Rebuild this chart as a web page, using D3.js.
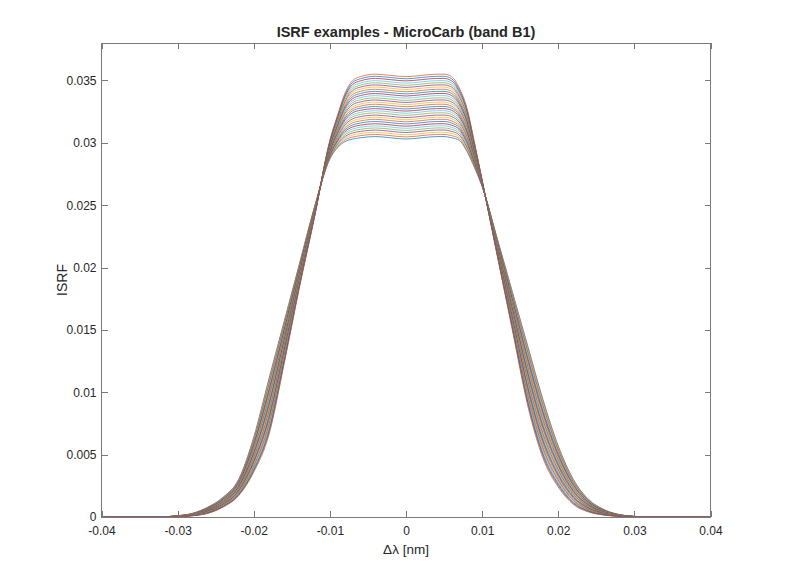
<!DOCTYPE html>
<html><head><meta charset="utf-8">
<script src="https://cdn.jsdelivr.net/npm/d3@7"></script>
<style>
body{margin:0;background:#fff}
svg text{font-family:"Liberation Sans",Arial,Helvetica,sans-serif;fill:#262626}
</style>
</head><body>
<svg id="chart" width="785" height="581"></svg>
<script>
// ---- data ----
const chartTitle = "ISRF examples - MicroCarb (band B1)";
const xLabel = "\u0394\u03bb [nm]";
const yLabel = "ISRF";
const xTickValues = [-0.04,-0.03,-0.02,-0.01,0,0.01,0.02,0.03,0.04];
const xTickLabels = ["-0.04","-0.03","-0.02","-0.01","0","0.01","0.02","0.03","0.04"];
const yTickValues = [0,0.005,0.01,0.015,0.02,0.025,0.03,0.035];
const yTickLabels = ["0","0.005","0.01","0.015","0.02","0.025","0.03","0.035"];
const lineColors = ["#0072BD","#D95319","#EDB120","#7E2F8E","#77AC30","#4DBEEE","#A2142F"];

// wavelength offsets (nm) at which the ISRF curves are tabulated
const deltaLambda = [-0.040,-0.032,-0.030,-0.028,-0.026,-0.024,-0.022,-0.020,-0.018,-0.016,-0.014,-0.012,-0.010,-0.009,-0.008,-0.007,-0.006,-0.004,-0.002,0.000,0.002,0.004,0.005,0.006,0.007,0.008,0.009,0.010,0.012,0.014,0.016,0.018,0.020,0.022,0.024,0.026,0.028,0.030,0.032,0.040];

// ISRF value of each of the 30 curves at each delta-lambda (one array per delta-lambda)
const isrfAtX00 = [0,0,0,0,0,0,0,0,0,0,0,0,0,0,0,0,0,0,0,0,0,0,0,0,0,0,0,0,0,0];
const isrfAtX01 = [2e-5,2e-5,2e-5,2e-5,2e-5,2e-5,2e-5,2e-5,1e-5,1e-5,1e-5,1e-5,1e-5,1e-5,1e-5,1e-5,1e-5,1e-5,1e-5,1e-5,1e-5,1e-5,0,0,0,0,0,0,0,0];
const isrfAtX02 = [10e-5,10e-5,10e-5,9e-5,9e-5,9e-5,9e-5,8e-5,8e-5,8e-5,8e-5,7e-5,7e-5,7e-5,7e-5,6e-5,6e-5,6e-5,6e-5,5e-5,5e-5,5e-5,5e-5,4e-5,4e-5,4e-5,4e-5,3e-5,3e-5,3e-5];
const isrfAtX03 = [30e-5,29e-5,29e-5,28e-5,27e-5,27e-5,26e-5,25e-5,24e-5,24e-5,23e-5,22e-5,22e-5,21e-5,20e-5,20e-5,19e-5,18e-5,18e-5,17e-5,16e-5,16e-5,15e-5,14e-5,13e-5,13e-5,12e-5,11e-5,11e-5,10e-5];
const isrfAtX04 = [80e-5,78e-5,77e-5,75e-5,73e-5,71e-5,70e-5,68e-5,66e-5,64e-5,63e-5,61e-5,59e-5,58e-5,56e-5,54e-5,52e-5,51e-5,49e-5,47e-5,46e-5,44e-5,42e-5,40e-5,39e-5,37e-5,35e-5,33e-5,32e-5,30e-5];
const isrfAtX05 = [160e-5,157e-5,154e-5,152e-5,149e-5,146e-5,143e-5,141e-5,138e-5,135e-5,132e-5,130e-5,127e-5,124e-5,121e-5,119e-5,116e-5,113e-5,110e-5,108e-5,105e-5,102e-5,99e-5,97e-5,94e-5,91e-5,88e-5,86e-5,83e-5,80e-5];
const isrfAtX06 = [300e-5,296e-5,291e-5,287e-5,282e-5,278e-5,273e-5,269e-5,264e-5,260e-5,255e-5,251e-5,246e-5,242e-5,237e-5,233e-5,228e-5,224e-5,219e-5,215e-5,210e-5,206e-5,201e-5,197e-5,192e-5,188e-5,183e-5,179e-5,174e-5,170e-5];
const isrfAtX07 = [640e-5,630e-5,621e-5,611e-5,601e-5,592e-5,582e-5,572e-5,563e-5,553e-5,543e-5,534e-5,524e-5,514e-5,505e-5,495e-5,486e-5,476e-5,466e-5,457e-5,447e-5,437e-5,428e-5,418e-5,408e-5,399e-5,389e-5,379e-5,370e-5,360e-5];
const isrfAtX08 = [1110e-5,1094e-5,1079e-5,1063e-5,1048e-5,1032e-5,1017e-5,1001e-5,986e-5,970e-5,955e-5,939e-5,924e-5,908e-5,893e-5,877e-5,862e-5,846e-5,831e-5,815e-5,800e-5,784e-5,769e-5,753e-5,738e-5,722e-5,707e-5,691e-5,676e-5,660e-5];
const isrfAtX09 = [1570e-5,1558e-5,1547e-5,1535e-5,1523e-5,1511e-5,1500e-5,1488e-5,1476e-5,1464e-5,1453e-5,1441e-5,1429e-5,1418e-5,1406e-5,1394e-5,1382e-5,1371e-5,1359e-5,1347e-5,1336e-5,1324e-5,1312e-5,1300e-5,1289e-5,1277e-5,1265e-5,1253e-5,1242e-5,1230e-5];
const isrfAtX10 = [2030e-5,2023e-5,2017e-5,2010e-5,2004e-5,1997e-5,1991e-5,1984e-5,1978e-5,1971e-5,1964e-5,1958e-5,1951e-5,1945e-5,1938e-5,1932e-5,1925e-5,1919e-5,1912e-5,1906e-5,1899e-5,1892e-5,1886e-5,1879e-5,1873e-5,1866e-5,1860e-5,1853e-5,1847e-5,1840e-5];
const isrfAtX11 = [2490e-5,2487e-5,2484e-5,2482e-5,2479e-5,2476e-5,2473e-5,2471e-5,2468e-5,2465e-5,2462e-5,2460e-5,2457e-5,2454e-5,2451e-5,2449e-5,2446e-5,2443e-5,2440e-5,2438e-5,2435e-5,2432e-5,2429e-5,2427e-5,2424e-5,2421e-5,2418e-5,2416e-5,2413e-5,2410e-5];
const isrfAtX12 = [2870e-5,2875e-5,2880e-5,2886e-5,2891e-5,2896e-5,2901e-5,2906e-5,2911e-5,2917e-5,2922e-5,2927e-5,2932e-5,2937e-5,2942e-5,2948e-5,2953e-5,2958e-5,2963e-5,2968e-5,2973e-5,2979e-5,2984e-5,2989e-5,2994e-5,2999e-5,3004e-5,3010e-5,3015e-5,3020e-5];
const isrfAtX13 = [2960e-5,2969e-5,2978e-5,2987e-5,2996e-5,3005e-5,3014e-5,3023e-5,3032e-5,3041e-5,3050e-5,3059e-5,3068e-5,3077e-5,3086e-5,3094e-5,3103e-5,3112e-5,3121e-5,3130e-5,3139e-5,3148e-5,3157e-5,3166e-5,3175e-5,3184e-5,3193e-5,3202e-5,3211e-5,3220e-5];
const isrfAtX14 = [3010e-5,3023e-5,3037e-5,3050e-5,3064e-5,3077e-5,3091e-5,3104e-5,3118e-5,3131e-5,3144e-5,3158e-5,3171e-5,3185e-5,3198e-5,3212e-5,3225e-5,3239e-5,3252e-5,3266e-5,3279e-5,3292e-5,3306e-5,3319e-5,3333e-5,3346e-5,3360e-5,3373e-5,3387e-5,3400e-5];
const isrfAtX15 = [3030e-5,3046e-5,3062e-5,3079e-5,3095e-5,3111e-5,3127e-5,3143e-5,3160e-5,3176e-5,3192e-5,3208e-5,3224e-5,3241e-5,3257e-5,3273e-5,3289e-5,3306e-5,3322e-5,3338e-5,3354e-5,3370e-5,3387e-5,3403e-5,3419e-5,3435e-5,3451e-5,3468e-5,3484e-5,3500e-5];
const isrfAtX16 = [3040e-5,3057e-5,3074e-5,3091e-5,3108e-5,3124e-5,3141e-5,3158e-5,3175e-5,3192e-5,3209e-5,3226e-5,3243e-5,3260e-5,3277e-5,3293e-5,3310e-5,3327e-5,3344e-5,3361e-5,3378e-5,3395e-5,3412e-5,3429e-5,3446e-5,3462e-5,3479e-5,3496e-5,3513e-5,3530e-5];
const isrfAtX17 = [3050e-5,3067e-5,3084e-5,3102e-5,3119e-5,3136e-5,3153e-5,3171e-5,3188e-5,3205e-5,3222e-5,3240e-5,3257e-5,3274e-5,3291e-5,3309e-5,3326e-5,3343e-5,3360e-5,3378e-5,3395e-5,3412e-5,3429e-5,3447e-5,3464e-5,3481e-5,3498e-5,3516e-5,3533e-5,3550e-5];
const isrfAtX18 = [3040e-5,3057e-5,3074e-5,3092e-5,3109e-5,3126e-5,3143e-5,3161e-5,3178e-5,3195e-5,3212e-5,3230e-5,3247e-5,3264e-5,3281e-5,3299e-5,3316e-5,3333e-5,3350e-5,3368e-5,3385e-5,3402e-5,3419e-5,3437e-5,3454e-5,3471e-5,3488e-5,3506e-5,3523e-5,3540e-5];
const isrfAtX19 = [3030e-5,3047e-5,3064e-5,3082e-5,3099e-5,3116e-5,3133e-5,3151e-5,3168e-5,3185e-5,3202e-5,3220e-5,3237e-5,3254e-5,3271e-5,3289e-5,3306e-5,3323e-5,3340e-5,3358e-5,3375e-5,3392e-5,3409e-5,3427e-5,3444e-5,3461e-5,3478e-5,3496e-5,3513e-5,3530e-5];
const isrfAtX20 = [3040e-5,3057e-5,3074e-5,3092e-5,3109e-5,3126e-5,3143e-5,3161e-5,3178e-5,3195e-5,3212e-5,3230e-5,3247e-5,3264e-5,3281e-5,3299e-5,3316e-5,3333e-5,3350e-5,3368e-5,3385e-5,3402e-5,3419e-5,3437e-5,3454e-5,3471e-5,3488e-5,3506e-5,3523e-5,3540e-5];
const isrfAtX21 = [3050e-5,3067e-5,3084e-5,3102e-5,3119e-5,3136e-5,3153e-5,3171e-5,3188e-5,3205e-5,3222e-5,3240e-5,3257e-5,3274e-5,3291e-5,3309e-5,3326e-5,3343e-5,3360e-5,3378e-5,3395e-5,3412e-5,3429e-5,3447e-5,3464e-5,3481e-5,3498e-5,3516e-5,3533e-5,3550e-5];
const isrfAtX22 = [3050e-5,3067e-5,3084e-5,3102e-5,3119e-5,3136e-5,3153e-5,3171e-5,3188e-5,3205e-5,3222e-5,3240e-5,3257e-5,3274e-5,3291e-5,3309e-5,3326e-5,3343e-5,3360e-5,3378e-5,3395e-5,3412e-5,3429e-5,3447e-5,3464e-5,3481e-5,3498e-5,3516e-5,3533e-5,3550e-5];
const isrfAtX23 = [3040e-5,3057e-5,3074e-5,3091e-5,3108e-5,3124e-5,3141e-5,3158e-5,3175e-5,3192e-5,3209e-5,3226e-5,3243e-5,3260e-5,3277e-5,3293e-5,3310e-5,3327e-5,3344e-5,3361e-5,3378e-5,3395e-5,3412e-5,3429e-5,3446e-5,3462e-5,3479e-5,3496e-5,3513e-5,3530e-5];
const isrfAtX24 = [3020e-5,3034e-5,3049e-5,3063e-5,3078e-5,3092e-5,3107e-5,3121e-5,3136e-5,3150e-5,3165e-5,3179e-5,3194e-5,3208e-5,3223e-5,3237e-5,3252e-5,3266e-5,3281e-5,3295e-5,3310e-5,3324e-5,3339e-5,3353e-5,3368e-5,3382e-5,3397e-5,3411e-5,3426e-5,3440e-5];
const isrfAtX25 = [2930e-5,2942e-5,2954e-5,2966e-5,2978e-5,2990e-5,3002e-5,3014e-5,3027e-5,3039e-5,3051e-5,3063e-5,3075e-5,3087e-5,3099e-5,3111e-5,3123e-5,3135e-5,3147e-5,3159e-5,3171e-5,3183e-5,3196e-5,3208e-5,3220e-5,3232e-5,3244e-5,3256e-5,3268e-5,3280e-5];
const isrfAtX26 = [2800e-5,2807e-5,2814e-5,2821e-5,2828e-5,2834e-5,2841e-5,2848e-5,2855e-5,2862e-5,2869e-5,2876e-5,2883e-5,2890e-5,2897e-5,2903e-5,2910e-5,2917e-5,2924e-5,2931e-5,2938e-5,2945e-5,2952e-5,2959e-5,2966e-5,2972e-5,2979e-5,2986e-5,2993e-5,3000e-5];
const isrfAtX27 = [2650e-5,2652e-5,2653e-5,2655e-5,2657e-5,2659e-5,2660e-5,2662e-5,2664e-5,2666e-5,2667e-5,2669e-5,2671e-5,2672e-5,2674e-5,2676e-5,2678e-5,2679e-5,2681e-5,2683e-5,2684e-5,2686e-5,2688e-5,2690e-5,2691e-5,2693e-5,2695e-5,2697e-5,2698e-5,2700e-5];
const isrfAtX28 = [2230e-5,2225e-5,2220e-5,2216e-5,2211e-5,2206e-5,2201e-5,2196e-5,2191e-5,2187e-5,2182e-5,2177e-5,2172e-5,2167e-5,2162e-5,2158e-5,2153e-5,2148e-5,2143e-5,2138e-5,2133e-5,2129e-5,2124e-5,2119e-5,2114e-5,2109e-5,2104e-5,2100e-5,2095e-5,2090e-5];
const isrfAtX29 = [1800e-5,1789e-5,1779e-5,1768e-5,1757e-5,1747e-5,1736e-5,1725e-5,1714e-5,1704e-5,1693e-5,1682e-5,1672e-5,1661e-5,1650e-5,1640e-5,1629e-5,1618e-5,1608e-5,1597e-5,1586e-5,1576e-5,1565e-5,1554e-5,1543e-5,1533e-5,1522e-5,1511e-5,1501e-5,1490e-5];
const isrfAtX30 = [1370e-5,1353e-5,1337e-5,1320e-5,1304e-5,1287e-5,1271e-5,1254e-5,1238e-5,1221e-5,1204e-5,1188e-5,1171e-5,1155e-5,1138e-5,1122e-5,1105e-5,1089e-5,1072e-5,1056e-5,1039e-5,1022e-5,1006e-5,989e-5,973e-5,956e-5,940e-5,923e-5,907e-5,890e-5];
const isrfAtX31 = [940e-5,924e-5,908e-5,891e-5,875e-5,859e-5,843e-5,827e-5,810e-5,794e-5,778e-5,762e-5,746e-5,729e-5,713e-5,697e-5,681e-5,664e-5,648e-5,632e-5,616e-5,600e-5,583e-5,567e-5,551e-5,535e-5,519e-5,502e-5,486e-5,470e-5];
const isrfAtX32 = [570e-5,559e-5,547e-5,536e-5,524e-5,513e-5,502e-5,490e-5,479e-5,468e-5,456e-5,445e-5,433e-5,422e-5,411e-5,399e-5,388e-5,377e-5,365e-5,354e-5,342e-5,331e-5,320e-5,308e-5,297e-5,286e-5,274e-5,263e-5,251e-5,240e-5];
const isrfAtX33 = [300e-5,293e-5,286e-5,279e-5,272e-5,266e-5,259e-5,252e-5,245e-5,238e-5,231e-5,224e-5,217e-5,210e-5,203e-5,197e-5,190e-5,183e-5,176e-5,169e-5,162e-5,155e-5,148e-5,141e-5,134e-5,128e-5,121e-5,114e-5,107e-5,100e-5];
const isrfAtX34 = [140e-5,137e-5,133e-5,130e-5,126e-5,123e-5,119e-5,116e-5,112e-5,109e-5,106e-5,102e-5,99e-5,95e-5,92e-5,88e-5,85e-5,81e-5,78e-5,74e-5,71e-5,68e-5,64e-5,61e-5,57e-5,54e-5,50e-5,47e-5,43e-5,40e-5];
const isrfAtX35 = [60e-5,58e-5,57e-5,55e-5,54e-5,52e-5,51e-5,49e-5,48e-5,46e-5,44e-5,43e-5,41e-5,40e-5,38e-5,37e-5,35e-5,34e-5,32e-5,31e-5,29e-5,27e-5,26e-5,24e-5,23e-5,21e-5,20e-5,18e-5,17e-5,15e-5];
const isrfAtX36 = [20e-5,19e-5,19e-5,18e-5,18e-5,17e-5,17e-5,16e-5,16e-5,15e-5,15e-5,14e-5,14e-5,13e-5,13e-5,12e-5,12e-5,11e-5,11e-5,10e-5,10e-5,9e-5,9e-5,8e-5,8e-5,7e-5,7e-5,6e-5,6e-5,5e-5];
const isrfAtX37 = [5e-5,5e-5,5e-5,4e-5,4e-5,4e-5,4e-5,4e-5,4e-5,3e-5,3e-5,3e-5,3e-5,3e-5,3e-5,2e-5,2e-5,2e-5,2e-5,2e-5,2e-5,1e-5,1e-5,1e-5,1e-5,1e-5,1e-5,0,0,0];
const isrfAtX38 = [0,0,0,0,0,0,0,0,0,0,0,0,0,0,0,0,0,0,0,0,0,0,0,0,0,0,0,0,0,0];
const isrfAtX39 = [0,0,0,0,0,0,0,0,0,0,0,0,0,0,0,0,0,0,0,0,0,0,0,0,0,0,0,0,0,0];

const isrfColumns = [isrfAtX00,isrfAtX01,isrfAtX02,isrfAtX03,isrfAtX04,isrfAtX05,isrfAtX06,isrfAtX07,isrfAtX08,isrfAtX09,
  isrfAtX10,isrfAtX11,isrfAtX12,isrfAtX13,isrfAtX14,isrfAtX15,isrfAtX16,isrfAtX17,isrfAtX18,isrfAtX19,
  isrfAtX20,isrfAtX21,isrfAtX22,isrfAtX23,isrfAtX24,isrfAtX25,isrfAtX26,isrfAtX27,isrfAtX28,isrfAtX29,
  isrfAtX30,isrfAtX31,isrfAtX32,isrfAtX33,isrfAtX34,isrfAtX35,isrfAtX36,isrfAtX37,isrfAtX38,isrfAtX39];

// ---- drawing ----
const plotLeft = 101.5, plotRight = 710.5, plotTop = 43, plotBottom = 517;
const x = d3.scaleLinear().domain([-0.04, 0.04]).range([plotLeft, plotRight]);
const y = d3.scaleLinear().domain([0, 0.038]).range([plotBottom, plotTop]);
const svg = d3.select("#chart");

svg.append("defs").append("clipPath").attr("id","plotClip")
  .append("rect").attr("x",plotLeft).attr("y",plotTop)
  .attr("width",plotRight-plotLeft).attr("height",plotBottom-plotTop);

const nCurves = isrfColumns[0].length;
const series = d3.range(nCurves).map(i => deltaLambda.map((dl, j) => [dl, isrfColumns[j][i]]));

const line = d3.line().x(d => x(d[0])).y(d => y(d[1])).curve(d3.curveMonotoneX);

svg.append("g").attr("clip-path","url(#plotClip)")
  .selectAll("path").data(series).join("path")
  .attr("d", line)
  .attr("fill","none")
  .attr("stroke",(d,i) => lineColors[i % lineColors.length])
  .attr("stroke-opacity",0.7)
  .attr("stroke-width",1);

const axisColor = "#7a7a7a";
function styleAxis(g){
  g.select(".domain").remove();
  g.selectAll(".tick line").attr("stroke",axisColor).attr("shape-rendering","crispEdges");
  g.selectAll(".tick text").attr("font-size","12px").attr("fill","#262626");
}
svg.append("g").attr("transform",`translate(0,${plotBottom})`)
  .call(d3.axisBottom(x).tickValues(xTickValues).tickFormat((d,i)=>xTickLabels[i]).tickSizeInner(-6).tickSizeOuter(0).tickPadding(9.5))
  .call(styleAxis);
svg.append("g").attr("transform",`translate(0,${plotTop})`)
  .call(d3.axisTop(x).tickValues(xTickValues).tickFormat("").tickSizeInner(-6).tickSizeOuter(0))
  .call(styleAxis);
svg.append("g").attr("transform",`translate(${plotLeft},0)`)
  .call(d3.axisLeft(y).tickValues(yTickValues).tickFormat((d,i)=>yTickLabels[i]).tickSizeInner(-6).tickSizeOuter(0).tickPadding(5))
  .call(styleAxis);
svg.append("g").attr("transform",`translate(${plotRight},0)`)
  .call(d3.axisRight(y).tickValues(yTickValues).tickFormat("").tickSizeInner(-6).tickSizeOuter(0))
  .call(styleAxis);

svg.append("rect").attr("x",plotLeft).attr("y",plotTop)
  .attr("width",plotRight-plotLeft).attr("height",plotBottom-plotTop)
  .attr("fill","none").attr("stroke",axisColor).attr("shape-rendering","crispEdges");

svg.append("text").attr("x",406).attr("y",37).attr("text-anchor","middle")
  .attr("font-size","14.5px").attr("font-weight","bold").attr("fill","#000").text(chartTitle);
svg.append("text").attr("x",406).attr("y",554).attr("text-anchor","middle")
  .attr("font-size","13.5px").text(xLabel);
svg.append("text").attr("transform","translate(67,280) rotate(-90)").attr("text-anchor","middle")
  .attr("font-size","14px").text(yLabel);
</script>
</body></html>
